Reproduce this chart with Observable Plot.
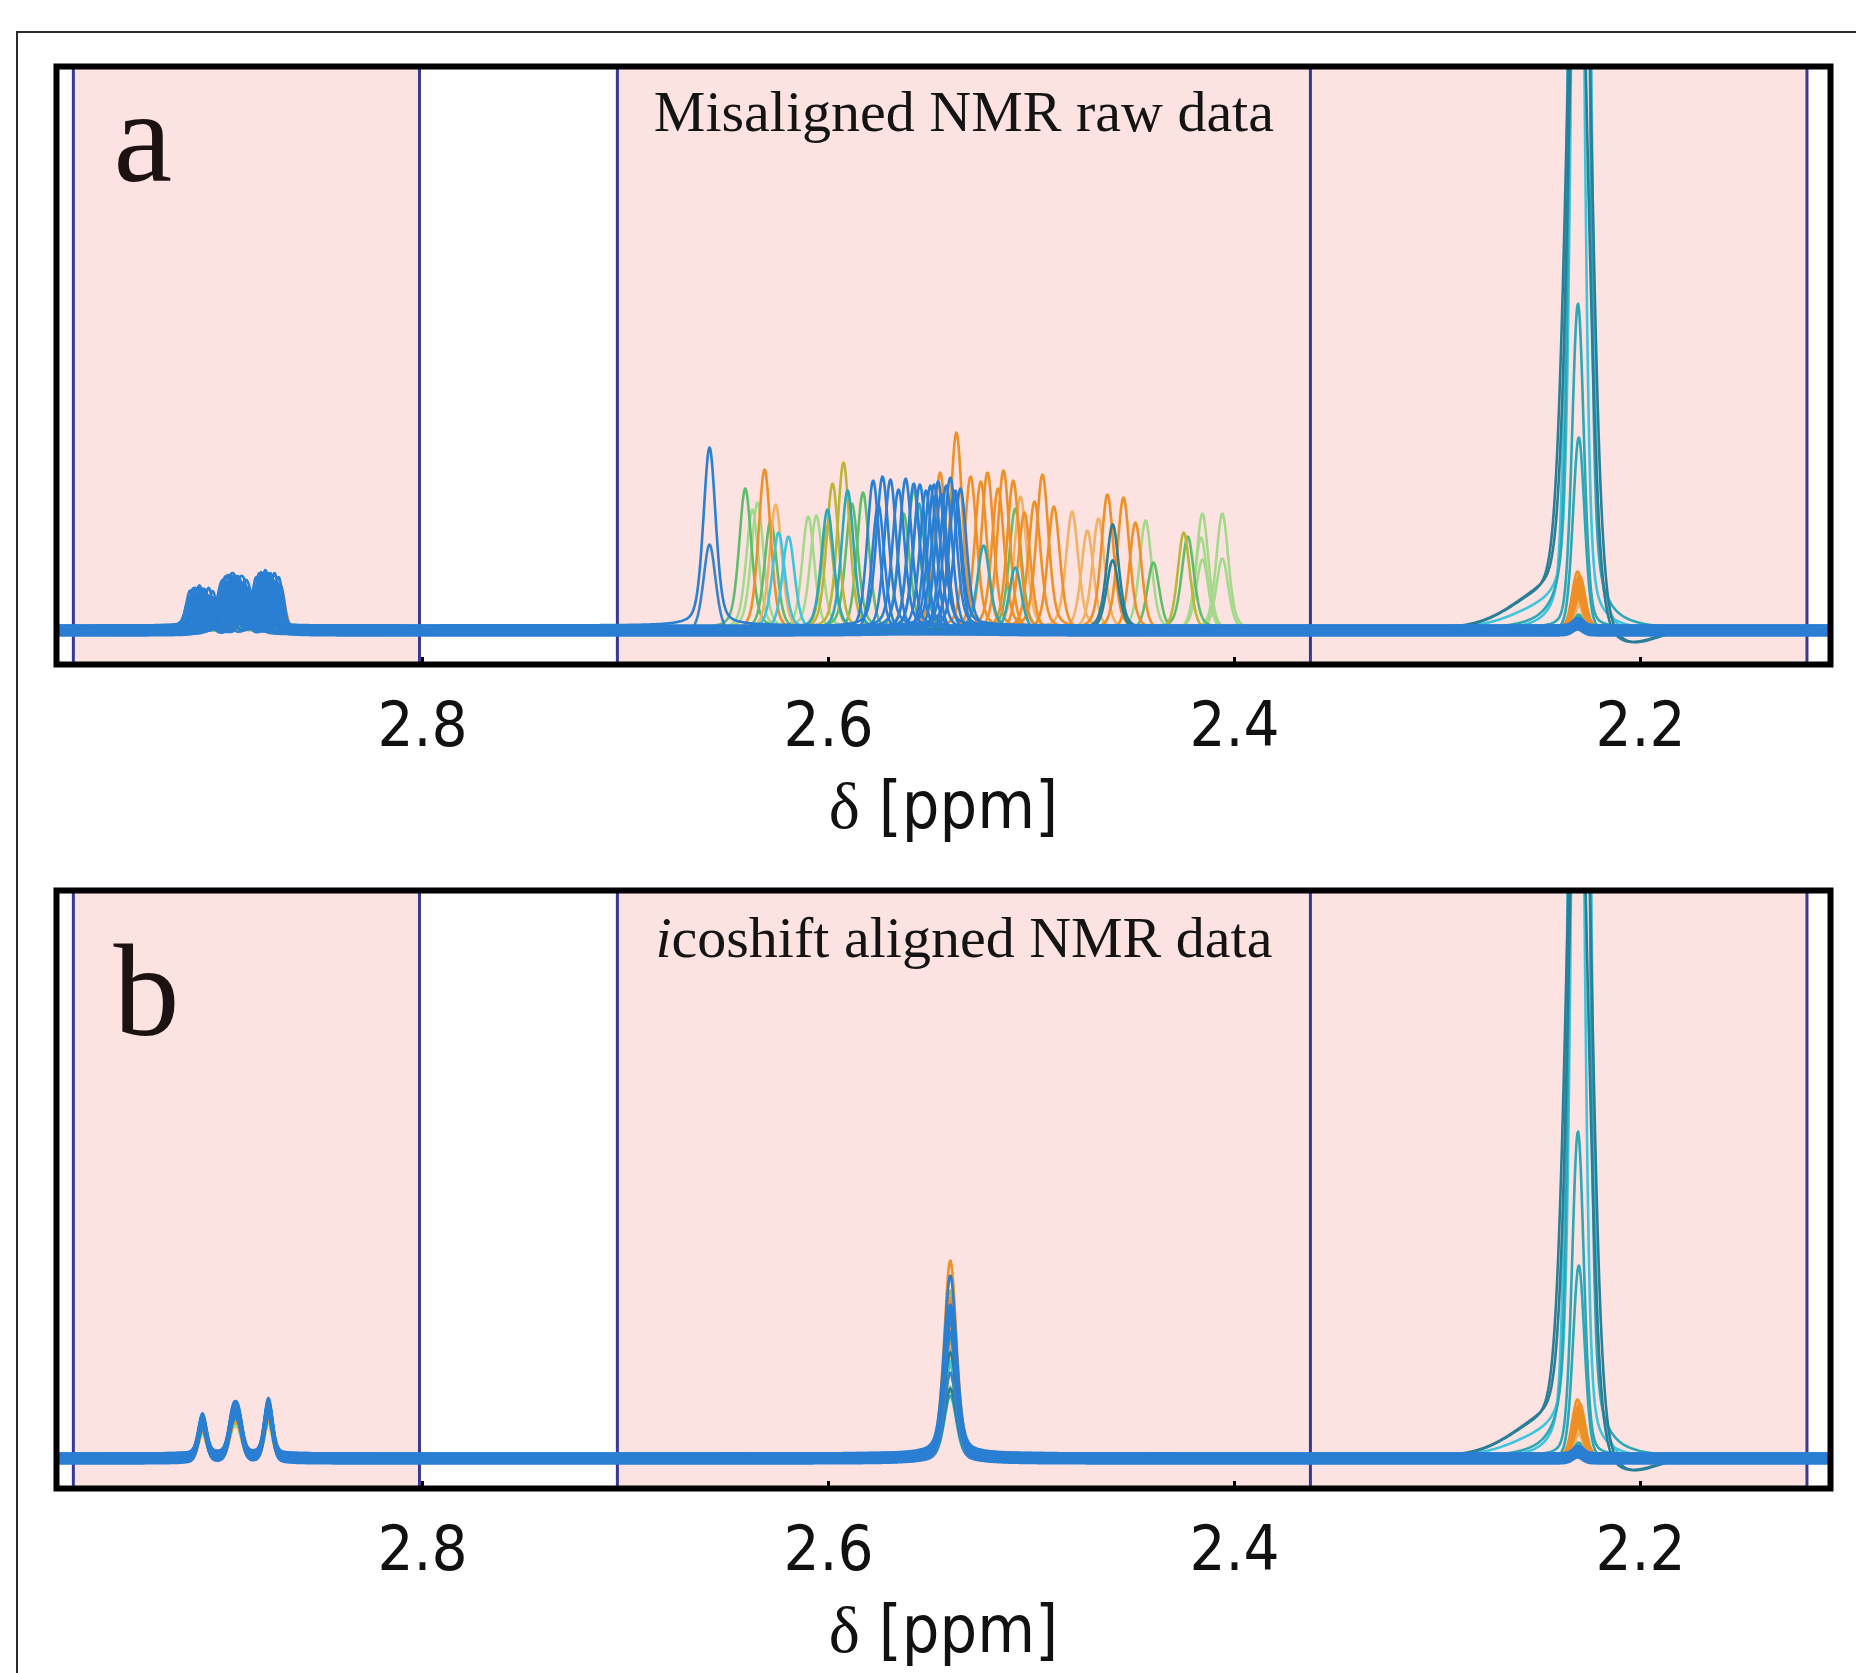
<!DOCTYPE html>
<html>
<head>
<meta charset="utf-8">
<script src="https://cdn.jsdelivr.net/npm/d3@7"></script>
<script src="https://cdn.jsdelivr.net/npm/@observablehq/plot@0.6"></script>
<style>
  body { margin: 0; background: #fff; }
  #wrap { position: relative; width: 1856px; height: 1673px; overflow: hidden; background: #fff; }
  #outer { position: absolute; left: 16px; top: 31px; width: 1900px; height: 1700px; border: 2px solid #2a2a2a; box-sizing: border-box; }
  .panel { position: absolute; left: 0; }
</style>
</head>
<body>
<div id="wrap"><div id="outer"></div></div>
<script>
// ---------------- chart values ----------------
const xDomain = [2.9803, 2.1064];           // ppm, reversed axis
const xTicks = [2.8, 2.6, 2.4, 2.2];
const intervalEdges = [2.972, 2.8015, 2.704, 2.3626, 2.118];
const shadedIntervals = [[2.972, 2.8015], [2.704, 2.3626], [2.3626, 2.118]];
const panelLetters = ["a", "b"];
const panelTitles = ["Misaligned NMR raw data", "icoshift aligned NMR data"];
const axisLabel = "δ [ppm]";
const yDomains = [[-34, 564], [-30, 568]];  // intensity, per panel

const colorNames  = ["lightgreen", "green", "olive", "lightorange", "orange", "cyan", "teal", "darkteal", "steel", "blue"];
const colorValues = ["#a4d98c", "#5dbd6c", "#bdb53a", "#f2b266", "#ee8f27", "#3ec4dc", "#2ba7b6", "#2a7f98", "#3b82c6", "#2a7fd3"];

// one entry per spectrum
const specColor = [
  "lightgreen","lightgreen","lightgreen","lightgreen","lightgreen","lightgreen","lightgreen","lightgreen",
  "green","green","green","green","green","green",
  "olive","olive","olive",
  "lightorange","lightorange","lightorange","lightorange",
  "orange","orange","orange","orange","orange","orange","orange","orange","orange","orange","orange","orange","orange",
  "cyan","cyan","teal","teal","teal","darkteal","darkteal",
  "steel","blue","blue","blue","blue","blue","blue","blue","blue","blue","blue","blue","blue","blue","blue","blue",
  "lightgreen","lightgreen","green","green","green","teal","teal","olive",
  "orange","orange","orange","lightorange","blue","blue","blue","blue"
];
// region 2 signal position in the raw (misaligned) spectra, ppm
const r2Raw = [
  2.635, 2.610, 2.606, 2.4438, 2.4158, 2.4158, 2.406, 2.406,
  2.641, 2.583, 2.558, 2.508, 2.440, 2.423,
  2.598, 2.5926, 2.425,
  2.626, 2.480, 2.467, 2.5054,
  2.6315, 2.545, 2.537, 2.530, 2.525, 2.5217, 2.5138, 2.509, 2.4946, 2.489, 2.4626, 2.4547, 2.4488,
  2.6246, 2.6197, 2.5906, 2.5236, 2.508, 2.460, 2.460,
  2.6586, 2.6586, 2.578, 2.5734, 2.5695, 2.562, 2.558, 2.555, 2.552, 2.5498, 2.546, 2.542, 2.540, 2.538, 2.535, 2.548,
  2.6375, 2.4165, 2.6285, 2.5885, 2.563, 2.6005, 2.5555, 2.6005,
  2.5165, 2.5035, 2.4985, 2.4725, 2.5655, 2.5445, 2.5375, 2.5755
];
const r2Height = [
  127, 115, 113, 110, 119, 70, 117, 73,
  140, 140, 140, 122, 69, 92,
  147, 167, 100,
  127, 117, 112, 133,
  163, 157, 198, 152, 150, 157, 162, 150, 154, 125, 135, 133, 110,
  97, 95, 140, 83, 65, 105, 70,
  90, 178, 153, 150, 153, 150, 148, 145, 140, 150, 145, 148, 150, 142, 140, 146,
  120, 95, 110, 125, 118, 120, 128, 105,
  140, 120, 128, 100, 138, 140, 135, 130
];
// region 1 multiplet displacement in the raw spectra, ppm, and its height
const r1Shift = [
  0.004, -0.002, 0.006, -0.005, 0.001, 0.003, -0.004, 0.005,
  -0.003, 0.002, 0.006, -0.006, 0.000, 0.004,
  -0.001, 0.005, -0.004,
  0.003, -0.005, 0.001, 0.006,
  -0.002, 0.004, -0.006, 0.002, 0.005, -0.003, 0.000, 0.006, -0.004, 0.003, -0.001, 0.005, -0.005,
  0.002, -0.003, 0.006, -0.002, 0.004, 0.001, -0.004,
  0.007, 0.006, 0.005, 0.004, 0.003, 0.002, 0.001, 0.000, -0.001, -0.002, -0.003, -0.004, -0.005, -0.006, 0.0035, -0.0015,
  0.002, -0.004, 0.005, -0.001, 0.003, -0.005, 0.001, 0.004,
  -0.003, 0.006, -0.002, 0.002, 0.0045, -0.0025, 0.0015, -0.0045
];
const r1Height = [
  38, 36, 40, 35, 39, 37, 41, 36,
  42, 40, 44, 38, 41, 43,
  40, 42, 39,
  41, 38, 42, 40,
  44, 42, 45, 41, 43, 40, 44, 42, 41, 43, 40, 42, 41,
  45, 44, 46, 43, 45, 44, 42,
  46, 48, 50, 52, 53, 55, 54, 56, 57, 55, 53, 51, 50, 48, 56, 52,
  37, 36, 41, 40, 42, 44, 43, 40,
  42, 41, 43, 39, 54, 53, 55, 51
];
// region 3 signal: centre (ppm), height, half width (ppm), phase-distortion amount
const r3Center = [
  2.2310, 2.2300, 2.2305, 2.2310, 2.2300, 2.2305, 2.2310, 2.2300,
  2.2305, 2.2310, 2.2300, 2.2305, 2.2310, 2.2300,
  2.2305, 2.2310, 2.2300,
  2.2310, 2.2305, 2.2300, 2.2310,
  2.2305, 2.2310, 2.2300, 2.2305, 2.2310, 2.2300, 2.2305, 2.2310, 2.2300, 2.2305, 2.2310, 2.2300, 2.2305,
  2.2292, 2.2318, 2.2300, 2.2308, 2.2304, 2.2296, 2.2312,
  2.2305, 2.2305, 2.2300, 2.2310, 2.2305, 2.2300, 2.2310, 2.2305, 2.2300, 2.2310, 2.2305, 2.2300, 2.2310, 2.2305, 2.2300, 2.2310,
  2.2300, 2.2310, 2.2305, 2.2300, 2.2310, 2.2305, 2.2300, 2.2310,
  2.2305, 2.2300, 2.2310, 2.2305, 2.2300, 2.2310, 2.2305, 2.2300
];
const r3Height = [
  10, 8, 12, 9, 11, 8, 10, 9,
  14, 12, 13, 11, 12, 10,
  14, 12, 13,
  28, 32, 25, 30,
  42, 58, 38, 50, 35, 54, 45, 40, 52, 36, 46, 48, 33,
  1800, 1400, 2200, 325, 195, 900, 800,
  9, 7, 6, 8, 7, 9, 6, 8, 7, 6, 8, 7, 9, 6, 8, 7,
  9, 10, 12, 13, 11, 14, 12, 13,
  44, 39, 50, 30, 7, 8, 6, 9
];
const r3Width = [
  0.003, 0.003, 0.003, 0.003, 0.003, 0.003, 0.003, 0.003,
  0.003, 0.003, 0.003, 0.003, 0.003, 0.003,
  0.003, 0.003, 0.003,
  0.003, 0.003, 0.003, 0.003,
  0.0032, 0.0032, 0.0032, 0.0032, 0.0032, 0.0032, 0.0032, 0.0032, 0.0032, 0.0032, 0.0032, 0.0032, 0.0032,
  0.0038, 0.0036, 0.0035, 0.0034, 0.0034, 0.0060, 0.0062,
  0.003, 0.003, 0.003, 0.003, 0.003, 0.003, 0.003, 0.003, 0.003, 0.003, 0.003, 0.003, 0.003, 0.003, 0.003, 0.003,
  0.003, 0.003, 0.003, 0.003, 0.003, 0.003, 0.003, 0.003,
  0.0032, 0.0032, 0.0032, 0.003, 0.003, 0.003, 0.003, 0.003
];
const r3Phase = [
  0,0,0,0,0,0,0,0, 0,0,0,0,0,0, 0,0,0, 0,0,0,0,
  0,0,0,0,0,0,0,0,0,0,0,0,0,
  14, 0, 0, 0, 0, 26, 24,
  0,0,0,0,0,0,0,0,0,0,0,0,0,0,0,0,
  0,0,0,0,0,0,0,0, 0,0,0,0,0,0,0,0
];
// small vertical baseline offsets of each spectrum
const baseOffset = [
  1, -1, 2, 0, -2, 1, 0, -1,
  2, -2, 1, 0, -1, 2,
  0, 1, -2,
  -1, 2, 0, 1,
  -2, 1, 0, 2, -1, 1, -2, 0, 2, -1, 1, 0, -2,
  1, -1, 0, 2, -2, 1, 0,
  -4, 5, -3, 4, -2, 2, -1, 1, 0, -5, 4, -3, 3, -4, 2, 0,
  1, -2, 0, 2, -1, 1, -1, 0,
  2, -2, 1, 0, 3, -3, 5, -4
];
// multiplet (region 1) line pattern, aligned centre, region 2 aligned position
const r1Center = 2.8921;
const r1Offsets = [0.0163, 0.0015, -0.0015, -0.0162];
const r1Rel = [0.72, 0.63, 0.63, 1.0];
const r1Hwhm = 0.0024;
const r2Aligned = 2.540;
const r2Hwhm = 0.0036;
const r3DispWidth = 0.02;

// ---------------- line shape rendering ----------------
function pv(x, c, h, w, eta) {
  const d = (x - c) / w;
  return h * ((1 - eta) * Math.exp(-Math.LN2 * d * d) + eta / (1 + d * d));
}
function phaseLobe(x, c, D, w) {
  if (!D) return 0;
  const d = (x - c) / w;
  return D * d * Math.exp((1 - d * d) / 2);
}
function spectrumAt(i, x, aligned) {
  let y = baseOffset[i];
  const c1 = r1Center + (aligned ? 0 : r1Shift[i]);
  for (let k = 0; k < r1Offsets.length; k++) y += pv(x, c1 + r1Offsets[k], r1Height[i] * r1Rel[k], r1Hwhm, 0.3);
  y += pv(x, aligned ? r2Aligned : r2Raw[i], r2Height[i], r2Hwhm, 0.4);
  y += pv(x, r3Center[i], r3Height[i], r3Width[i], 0.25) + phaseLobe(x, r3Center[i], r3Phase[i], r3DispWidth);
  return y;
}
const step = 0.0004;
const nPts = Math.round((xDomain[0] - xDomain[1]) / step) + 1;
// drawing order: by colour group, blue last
const order = d3.range(specColor.length).sort((a, b) =>
  colorNames.indexOf(specColor[a]) - colorNames.indexOf(specColor[b]) || a - b);

function buildChannels(aligned) {
  const X = [], Y = [], Z = [], C = [];
  for (const i of order) {
    for (let j = 0; j < nPts; j++) {
      const x = xDomain[0] - j * step;
      X.push(x); Y.push(spectrumAt(i, x, aligned)); Z.push(i); C.push(specColor[i]);
    }
  }
  return {X, Y, Z, C};
}

const W = 1856, H = 849;
const tops = [0, 824];
const sansNarrow = "'Liberation Sans Narrow', 'DejaVu Sans Condensed', 'Roboto Condensed', 'Open Sans', sans-serif";
const serif = "'Liberation Serif', 'DejaVu Serif', serif";
const midInterval = (intervalEdges[2] + intervalEdges[3]) / 2;

[0, 1].forEach(p => {
  const ch = buildChannels(p === 1);
  const idx = d3.range(ch.X.length);
  const chart = Plot.plot({
    width: W, height: H,
    marginLeft: 56, marginRight: 26, marginTop: 66, marginBottom: 185,
    style: {background: "transparent", overflow: "visible"},
    x: {domain: xDomain, axis: null},
    y: {domain: yDomains[p], axis: null},
    color: {domain: colorNames, range: colorValues},
    marks: [
      Plot.rect(shadedIntervals, {x1: d => d[0], x2: d => d[1], fill: "#fce3e1"}),
      Plot.ruleX(intervalEdges, {stroke: "#38389a", strokeWidth: 3}),
      Plot.line(idx, {x: ch.X, y: ch.Y, z: ch.Z, stroke: ch.C, strokeWidth: 2.6, clip: "frame"}),
      Plot.axisX({ticks: xTicks, anchor: "bottom", tickSize: -7, strokeWidth: 3, text: null, label: null}),
      Plot.axisX({ticks: xTicks, anchor: "bottom", tickSize: 0, tickPadding: 37, fontSize: 63,
                  fontFamily: sansNarrow, fill: "#111", label: null}),
      Plot.frame({stroke: "#000", strokeWidth: 6}),
      Plot.text([panelTitles[p]], {x: () => midInterval, text: d => d, frameAnchor: "top", lineAnchor: "bottom",
                 dy: p === 0 ? 64 : 66, fontSize: 58, fontFamily: serif, fill: "#141414"}),
      Plot.text([panelLetters[p]], {text: d => d, frameAnchor: "top-left", textAnchor: "start", lineAnchor: "bottom",
                 dx: 57, dy: p === 0 ? 114 : 144, fontSize: 132, fontFamily: serif, fill: "#1d1212"}),
      Plot.text([axisLabel], {text: d => d, frameAnchor: "bottom", lineAnchor: "middle", dy: 142,
                 fontSize: 66, fontFamily: sansNarrow, fill: "#111"})
    ]
  });
  chart.classList.add("panel");
  chart.style.top = tops[p] + "px";
  // mixed styling inside texts
  d3.select(chart).selectAll("text").each(function () {
    const t = this.textContent;
    const sel = d3.select(this);
    if (t === axisLabel) {
      sel.text(null);
      sel.append("tspan").attr("font-family", serif).text("δ");
      sel.append("tspan").text(" [ppm]");
    } else if (t === "icoshift aligned NMR data") {
      sel.text(null);
      sel.append("tspan").attr("font-style", "italic").text("i");
      sel.append("tspan").text("coshift aligned NMR data");
    }
  });
  document.getElementById("wrap").appendChild(chart);
});
</script>
</body>
</html>
